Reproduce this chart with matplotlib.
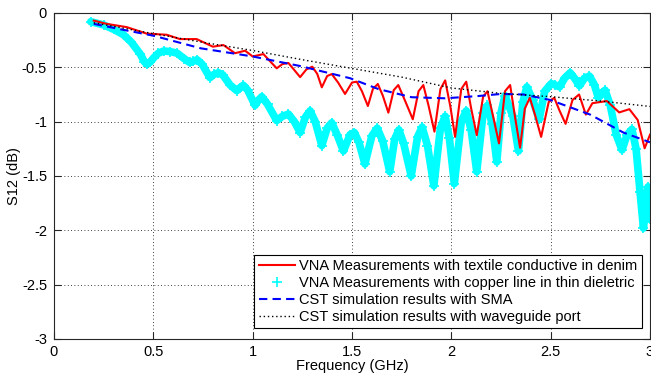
import matplotlib
matplotlib.use("Agg")
import matplotlib.pyplot as plt

plt.rcParams['font.family'] = ['Liberation Sans', 'DejaVu Sans']

# Red: VNA textile conductive in denim
red_x = [0.2, 0.265, 0.366, 0.467, 0.567, 0.634, 0.718, 0.80, 0.853, 0.911, 0.962, 1.0, 1.054,
         1.121, 1.15, 1.18, 1.239, 1.27, 1.30, 1.325, 1.348, 1.375, 1.398, 1.43, 1.465, 1.50, 1.524,
         1.55, 1.58, 1.605, 1.63, 1.655, 1.683, 1.71, 1.733, 1.77, 1.806, 1.835, 1.859, 1.885, 1.915,
         1.945, 1.969, 1.995, 2.019, 2.05, 2.075, 2.10, 2.128, 2.16, 2.182, 2.21, 2.24, 2.27, 2.296,
         2.32, 2.346, 2.37, 2.395, 2.42, 2.452, 2.49, 2.518, 2.545, 2.575, 2.61, 2.643, 2.677, 2.71,
         2.783, 2.845, 2.896, 2.938, 2.973, 3.0]
red_y = [-0.07, -0.10, -0.13, -0.19, -0.20, -0.24, -0.24, -0.31, -0.295, -0.37, -0.347, -0.40, -0.378,
         -0.509, -0.47, -0.46, -0.59, -0.52, -0.494, -0.56, -0.684, -0.58, -0.562, -0.64, -0.745, -0.64, -0.632,
         -0.72, -0.856, -0.70, -0.653, -0.76, -0.917, -0.71, -0.663, -0.82, -0.978, -0.72, -0.663, -0.85, -1.092,
         -0.70, -0.62, -0.86, -1.14, -0.70, -0.632, -0.88, -1.125, -0.77, -0.72, -0.95, -1.20, -0.72, -0.663,
         -0.95, -1.24, -0.88, -0.78, -0.93, -1.14, -0.82, -0.78, -0.90, -1.02, -0.80, -0.75, -0.935, -0.83,
         -0.81, -0.915, -0.885, -0.984, -1.245, -1.12]

# Cyan: VNA copper line in thin dielectric
cyan_x = [0.185, 0.25, 0.30, 0.35, 0.39, 0.435, 0.455, 0.47, 0.485, 0.503, 0.525, 0.552, 0.585, 0.62,
          0.655, 0.683, 0.70, 0.72, 0.745, 0.785, 0.805, 0.827, 0.85, 0.885, 0.92, 0.935, 0.953, 0.975,
          1.012, 1.03, 1.046, 1.075, 1.121, 1.15, 1.18, 1.21, 1.239, 1.265, 1.289, 1.315, 1.348, 1.375,
          1.398, 1.425, 1.457, 1.49, 1.512, 1.535, 1.565, 1.60, 1.627, 1.655, 1.69, 1.715, 1.736, 1.76,
          1.798, 1.83, 1.853, 1.88, 1.912, 1.945, 1.969, 1.99, 2.015, 2.05, 2.075, 2.10, 2.128, 2.16,
          2.182, 2.205, 2.229, 2.25, 2.27, 2.31, 2.338, 2.36, 2.38, 2.41, 2.442, 2.47, 2.503, 2.52,
          2.545, 2.57, 2.598, 2.62, 2.645, 2.67, 2.695, 2.72, 2.74, 2.757, 2.774, 2.80, 2.83, 2.859,
          2.885, 2.909, 2.93, 2.95, 2.967, 2.98, 2.99, 3.0]
cyan_y = [-0.08, -0.11, -0.15, -0.20, -0.27, -0.38, -0.45, -0.47, -0.45, -0.41, -0.37, -0.35, -0.355, -0.37,
          -0.42, -0.455, -0.445, -0.43, -0.47, -0.595, -0.565, -0.55, -0.57, -0.66, -0.715, -0.69, -0.665, -0.71,
          -0.85, -0.80, -0.77, -0.84, -0.99, -0.95, -0.93, -1.00, -1.10, -0.96, -0.90, -1.00, -1.22, -1.06,
          -1.01, -1.12, -1.27, -1.12, -1.10, -1.19, -1.39, -1.13, -1.06, -1.18, -1.46, -1.16, -1.075, -1.20,
          -1.50, -1.14, -1.05, -1.22, -1.59, -1.06, -0.95, -1.15, -1.57, -1.00, -0.90, -1.08, -1.46, -0.92,
          -0.85, -1.02, -1.37, -0.92, -0.76, -0.95, -1.27, -0.82, -0.68, -0.80, -0.98, -0.72, -0.65, -0.66,
          -0.68, -0.60, -0.55, -0.60, -0.67, -0.60, -0.58, -0.66, -0.78, -0.74, -0.71, -0.85, -1.12, -1.26,
          -1.12, -1.07, -1.25, -1.65, -1.98, -1.75, -1.60, -1.90]

# Blue dashed: CST with SMA
blue_x = [0.2, 0.336, 0.503, 0.739, 1.0, 1.239, 1.49, 1.633, 1.80, 1.969, 2.136, 2.25, 2.363, 2.497,
          2.699, 2.866, 3.0]
blue_y = [-0.10, -0.15, -0.21, -0.325, -0.40, -0.488, -0.60, -0.70, -0.775, -0.785, -0.764, -0.745, -0.75,
          -0.80, -0.935, -1.10, -1.19]

# Black dotted: CST with waveguide port
black_x = [0.2, 0.5, 0.75, 1.0, 1.25, 1.5, 1.75, 2.0, 2.25, 2.5, 2.75, 3.0]
black_y = [-0.09, -0.19, -0.27, -0.345, -0.43, -0.51, -0.59, -0.69, -0.74, -0.77, -0.81, -0.86]

labels = ["VNA Measurements with textile conductive in denim",
          "VNA Measurements with copper line in thin dieletric",
          "CST simulation results with SMA",
          "CST simulation results with waveguide port"]

xticks = [0, 0.5, 1, 1.5, 2, 2.5, 3]
xticklabels = ["0", "0.5", "1", "1.5", "2", "2.5", "3"]
yticks = [0, -0.5, -1, -1.5, -2, -2.5, -3]
yticklabels = ["0", "-0.5", "-1", "-1.5", "-2", "-2.5", "-3"]

fig = plt.figure(figsize=(6.51, 3.74), dpi=100)
ax = fig.add_axes([54/651, 1 - 339/374, 596/651, 326/374])

ax.plot(cyan_x, cyan_y, color='#00ffff', lw=5.5, solid_joinstyle='round', solid_capstyle='round',
        zorder=2, label='_nolegend_')
h_cyan, = ax.plot(cyan_x, cyan_y, color='#00ffff', ls='none', marker='+', ms=7, mew=1.2, zorder=2)
h_red, = ax.plot(red_x, red_y, color='#ff0000', lw=1.5, solid_joinstyle='round', zorder=3)
h_blue, = ax.plot(blue_x, blue_y, color='#0000ff', lw=1.5, ls=(0, (4, 2.5)), zorder=4)
h_black, = ax.plot(black_x, black_y, color='black', lw=1.0, ls=(0, (1, 2)), zorder=4)

ax.set_xlim(0, 3)
ax.set_ylim(-3, 0)
ax.set_xticks(xticks)
ax.set_xticklabels(xticklabels)
ax.set_yticks(yticks)
ax.set_yticklabels(yticklabels)
ax.tick_params(direction='in', top=True, right=True, length=5, width=0.8, labelsize=10.5,
               colors='#262626', labelcolor='black')
ax.tick_params(axis='x', pad=4)
ax.tick_params(axis='y', pad=5)
for s in ax.spines.values():
    s.set_color('#262626')
    s.set_linewidth(0.8)
ax.grid(True, color='black', ls=(0, (1, 3)), lw=0.6)

ax.set_xlabel("Frequency (GHz)", fontsize=10.5, labelpad=0)
ax.set_ylabel("S12 (dB)", fontsize=10.5, labelpad=0.5)

leg = ax.legend([h_red, h_cyan, h_blue, h_black], labels, loc='upper right',
                bbox_to_anchor=(0.9866, 0.2577), borderaxespad=0, fontsize=10.5,
                fancybox=False, framealpha=1, edgecolor='black', handlelength=2.5,
                handletextpad=0.3, labelspacing=0.2, borderpad=0.3, numpoints=1)
leg.get_frame().set_linewidth(0.8)

fig.savefig("out.png", dpi=100)
